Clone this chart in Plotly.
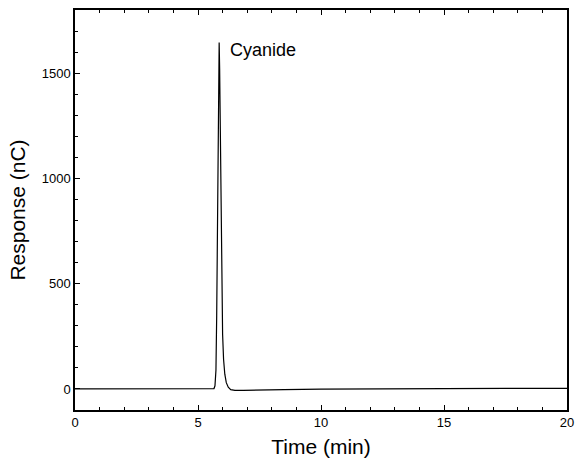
import plotly.graph_objects as go

time_min = [0, 2, 4, 5.0, 5.55, 5.65, 5.69, 5.73, 5.76, 5.79, 5.82, 5.85, 5.86, 5.88, 5.91, 5.94, 5.97,
            6.00, 6.04, 6.09, 6.15, 6.23, 6.33, 6.5, 6.85, 7.5, 8.5, 10, 12, 15, 17.5, 20]
response_nc = [0, 0, 0, 0, 0, 2, 15, 90, 350, 800, 1300, 1620, 1645, 1520, 1150, 750, 450,
               260, 140, 70, 30, 8, -3, -7, -7, -5, -3, -1, 1, 3, 3, 3]

peak_label = "Cyanide"
peak_time = 5.86
peak_value = 1645

font = "Liberation Sans, Arial, sans-serif"

fig = go.Figure()
fig.add_trace(go.Scatter(x=time_min, y=response_nc, mode="lines",
                         line=dict(color="black", width=1.2), showlegend=False,
                         hoverinfo="skip"))

fig.add_annotation(x=peak_time, y=peak_value, text=peak_label, showarrow=False,
                   xanchor="left", yanchor="top", xshift=9, yshift=5,
                   font=dict(family=font, size=18, color="black"))

fig.update_layout(
    width=581, height=462,
    margin=dict(l=75, r=7, t=10, b=52),
    paper_bgcolor="white", plot_bgcolor="white",
    font=dict(family=font, color="black"),
)
fig.update_xaxes(range=[0, 20], tickvals=[0, 5, 10, 15, 20], ticks="inside", ticklen=5,
                 tickwidth=1, tickcolor="black",
                 minor=dict(dtick=1, ticks="inside", ticklen=3, tickcolor="black"),
                 showline=True, linecolor="black", linewidth=1.5, mirror="ticks",
                 showgrid=False, zeroline=False,
                 tickfont=dict(size=13, family=font, color="black"),
                 title=dict(text="Time (min)", font=dict(size=21, family=font, color="black"),
                            standoff=10))
fig.update_yaxes(range=[-100, 1800], tickvals=[0, 500, 1000, 1500], ticks="inside", ticklen=5,
                 tickwidth=1, tickcolor="black",
                 minor=dict(dtick=100, ticks="inside", ticklen=3, tickcolor="black"),
                 showline=True, linecolor="black", linewidth=1.5, mirror=True,
                 showgrid=False, zeroline=False,
                 tickfont=dict(size=13, family=font, color="black"),
                 title=dict(text="Response (nC)", font=dict(size=21, family=font, color="black"),
                            standoff=10))

fig.write_html("out.html", config={"displayModeBar": False},
               post_script="document.body.style.margin='0';")
